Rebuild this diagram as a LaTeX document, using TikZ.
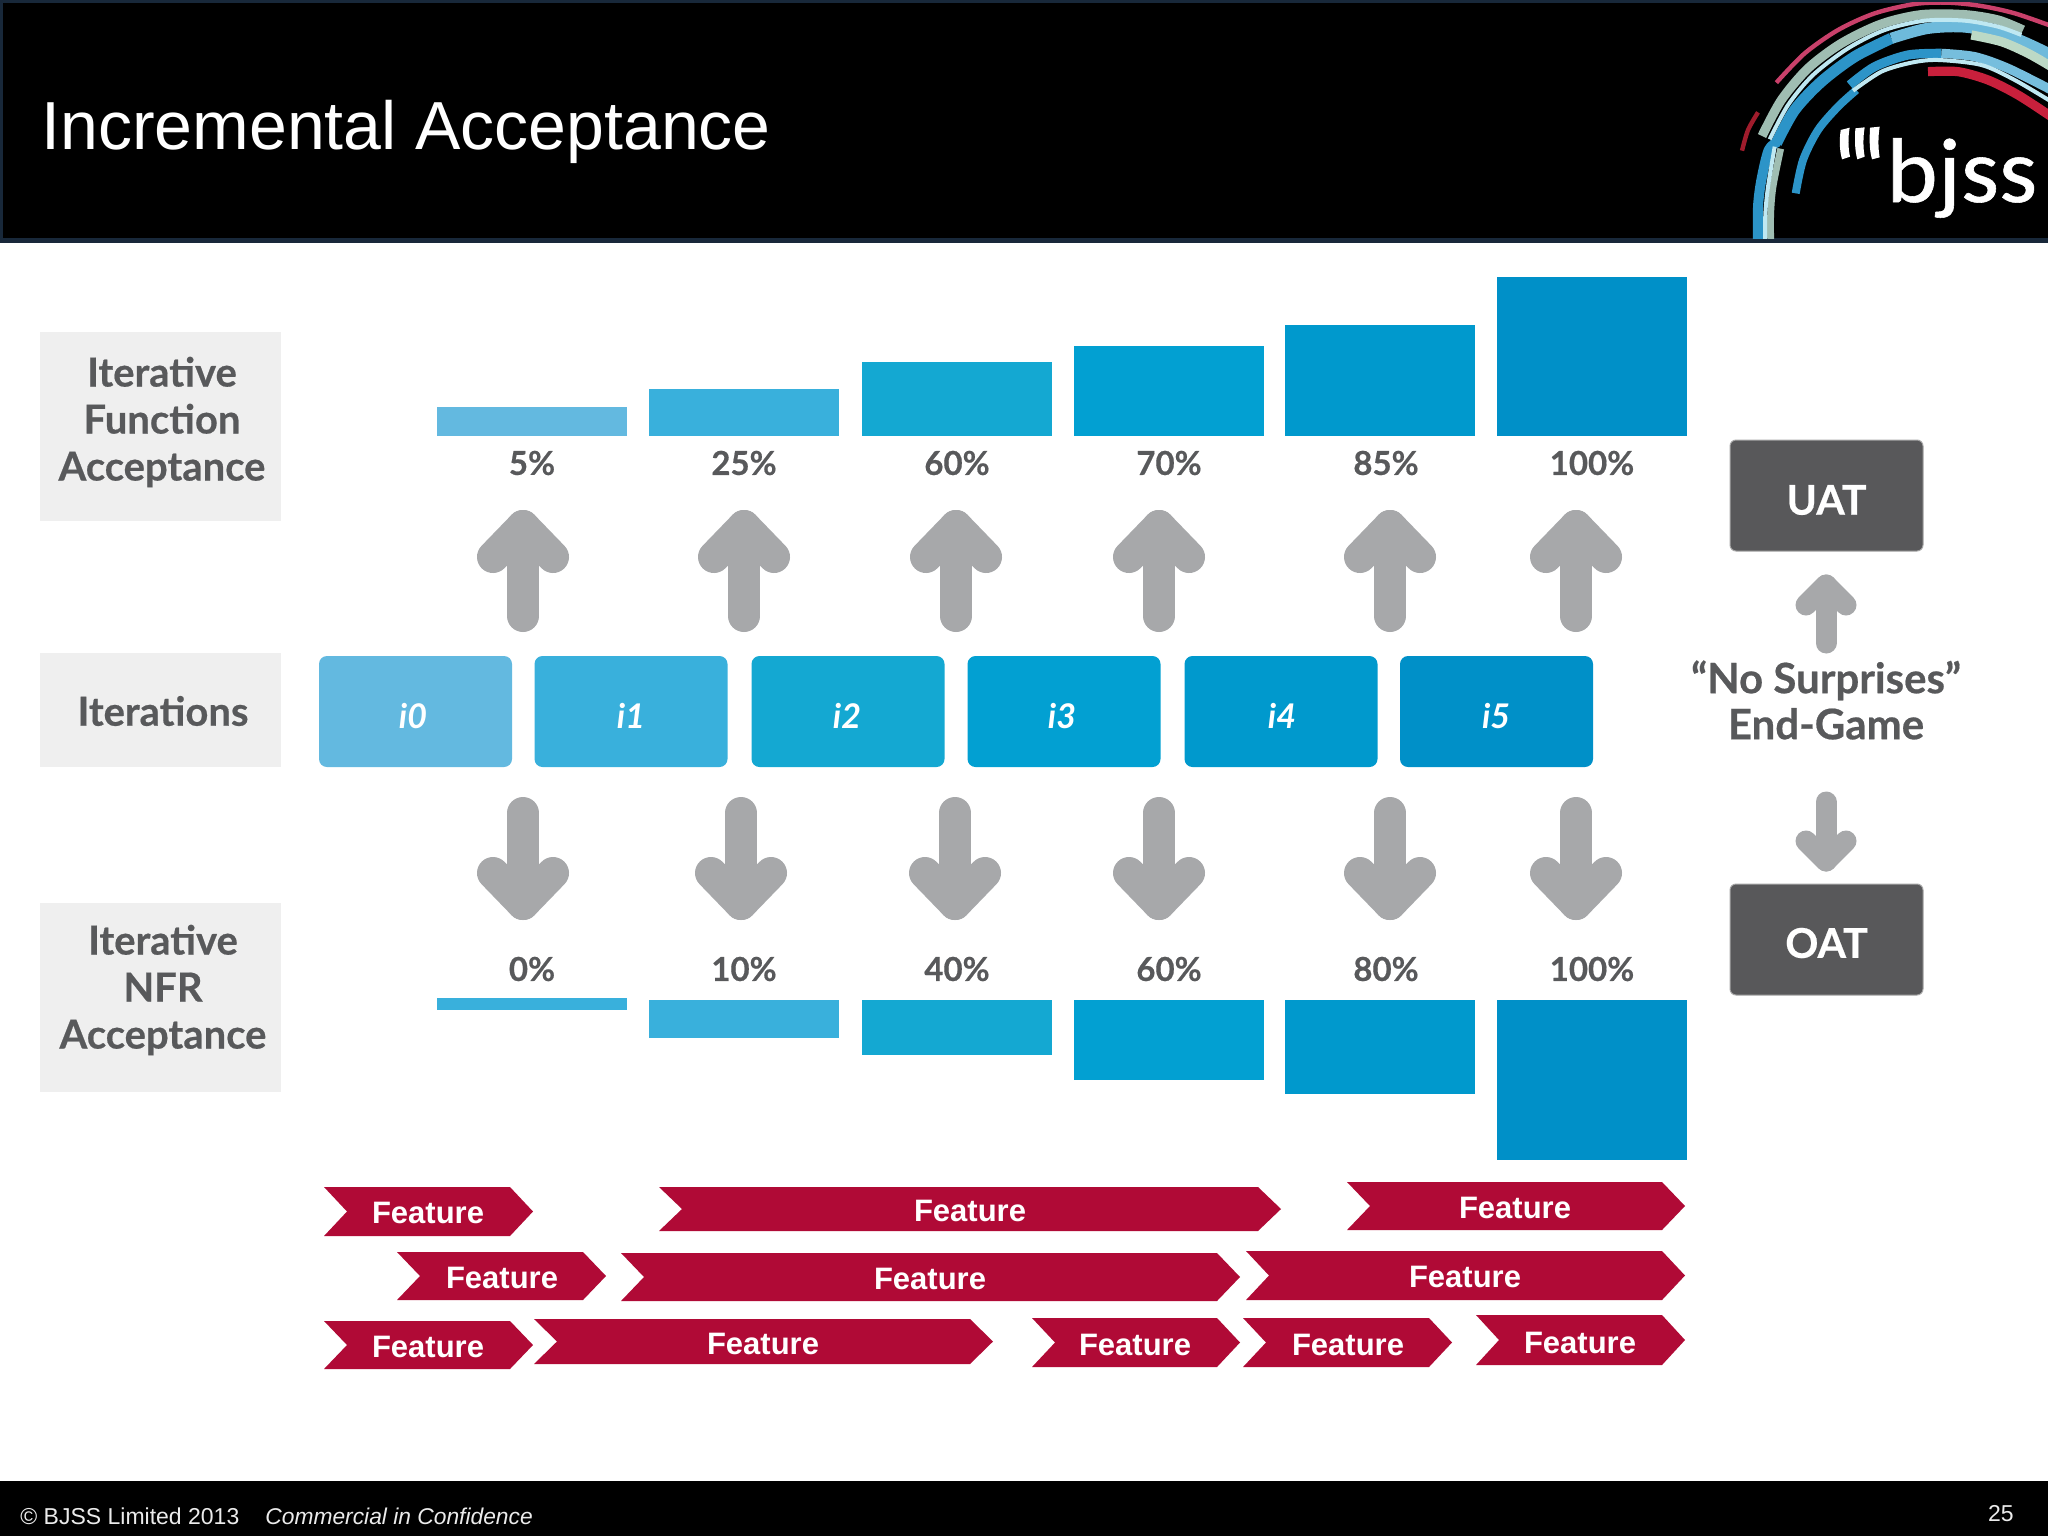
\documentclass[tikz,border=0pt]{standalone}
\usepackage{fontspec}
\setmainfont{Liberation Sans}
\newfontfamily\lato[BoldFeatures={FakeBold=0.5}]{Lato}
\newfontfamily\logofont[FakeBold=0.6]{Carlito}
\definecolor{headnavy}{HTML}{18283A}
\definecolor{labelgrey}{HTML}{EFEFEF}
\definecolor{labeltext}{HTML}{58595B}
\definecolor{arrowgrey}{HTML}{A7A8AA}
\definecolor{darkbox}{HTML}{58585A}
\definecolor{featred}{HTML}{B00A36}
\definecolor{ca}{HTML}{63B9E0}
\definecolor{cb}{HTML}{39B0DC}
\definecolor{cc}{HTML}{14A8D2}
\definecolor{cd}{HTML}{02A0D2}
\definecolor{ce}{HTML}{0099CD}
\definecolor{cf}{HTML}{0090C8}
\definecolor{lblue}{HTML}{2C94C8}
\definecolor{lgrey}{HTML}{9FBDB2}
\definecolor{llight}{HTML}{BFE8F2}
\definecolor{lgreen}{HTML}{BCD9C6}
\definecolor{lpink}{HTML}{C9406A}
\definecolor{ldred}{HTML}{A01C2C}
\definecolor{lred}{HTML}{C8203C}
\tikzset{
 labelbox/.style={fill=labelgrey,inner sep=0pt,minimum width=120.5pt},
 labeltxt/.style={text=labeltext,align=center,inner sep=0pt,font=\lato\bfseries\fontsize{20}{23.5}\selectfont},
 iterbox/.style={rounded corners=4pt,inner sep=0pt,minimum width=96.5pt,minimum height=55.5pt},
 itertxt/.style={text=white,inner sep=0pt,font=\lato\bfseries\itshape\fontsize{17}{19}\selectfont},
 barbox/.style={inner sep=0pt,minimum width=95pt},
 pct/.style={text=labeltext,font=\lato\bfseries\fontsize{16.5}{18}\selectfont,inner sep=0pt},
 gatebox/.style={fill=darkbox,draw=black!35,line width=.5pt,rounded corners=3pt,inner sep=0pt,
   minimum width=96.5pt,minimum height=55.5pt},
 fatarrow/.style={draw=arrowgrey,line width=16pt,line cap=round,line join=round},
 thinarrow/.style={draw=arrowgrey,line width=10.5pt,line cap=round,line join=round},
 feat/.style={text=white,font=\bfseries\fontsize{15.5}{17}\selectfont,inner sep=0pt},
 band/.style={line cap=butt,line join=round}
}
\newcommand{\chev}[7]{%
 \fill[featred] (#2,#3) -- (#4-23,#3) -- (#4,{(#3+#5)/2}) -- (#4-23,#5) -- (#2,#5) -- (#2+23,{(#3+#5)/2}) -- cycle;
 \node[feat] (#1) at (#6,#7) {Feature};}
\begin{document}
\begin{tikzpicture}[x=0.5pt,y=-0.5pt]
\useasboundingbox (0,0) rectangle (2048,1536);
\fill[white] (0,0) rectangle (2048,1536);
% header / footer
\fill[headnavy] (0,0) rectangle (2048,243);
\fill[black] (3,3) rectangle (2048,238);
\fill[black] (0,1481) rectangle (2048,1536);
\node[anchor=base west,inner sep=0pt,text=white,font=\fontsize{34}{36}\selectfont] (title) at (41,149) {Incremental Acceptance};
\node[anchor=base west,inner sep=0pt,text=white!92!black,font=\fontsize{11.5}{13}\selectfont] (copy) at (20,1524) {© BJSS Limited 2013};
\node[anchor=base west,inner sep=0pt,text=white!92!black,font=\itshape\fontsize{11.4}{13}\selectfont] (conf) at (265,1524) {Commercial in Confidence};
\node[anchor=base east,inner sep=0pt,text=white!92!black,font=\fontsize{11.5}{13}\selectfont] (page) at (2014,1521) {25};
% logo
\begin{scope}
\clip (1600,3) rectangle (2048,238);
\begin{scope}[shift={(1648,0)},x=0.16667pt,y=-0.16667pt]
\draw[band,lpink,line width=2.2pt] plot[smooth] coordinates {(385,248)(470,160)(570,90)(680,40)(800,12)(900,8)(1000,18)(1100,40)(1210,78)};
\draw[band,ldred,line width=2.2pt] plot[smooth] coordinates {(330,337)(300,390)(282,452)};
\draw[band,lblue,line width=5.6pt] plot[smooth] coordinates {(385,430)(440,330)(520,245)(620,170)(730,115)};
\draw[band,lblue!55!llight,line width=5.6pt] plot[smooth] coordinates {(730,115)(840,85)(960,82)(1100,115)(1210,165)};
\draw[band,lblue,line width=5pt] plot[smooth] coordinates {(330,725)(330,620)(340,540)(362,450)(390,425)};
\draw[band,lgrey,line width=4.6pt] plot[smooth] coordinates {(342,408)(400,300)(480,205)(580,130)(700,72)(820,44)(950,44)(1050,60)(1125,90)};
\draw[band,llight,line width=2pt] plot[smooth] coordinates {(365,418)(420,315)(495,225)(600,145)(710,90)(830,62)(950,62)(1050,80)(1120,105)};
\draw[band,lgrey,line width=3.4pt] plot[smooth] coordinates {(368,725)(368,640)(375,560)(398,446)};
\draw[band,llight,line width=2pt] plot[smooth] coordinates {(351,725)(352,640)(360,560)(380,440)};
\draw[band,lgreen,line width=4.6pt] plot[smooth] coordinates {(970,105)(1060,125)(1140,160)(1210,200)};
\draw[band,lblue,line width=4pt] plot[smooth] coordinates {(443,580)(465,480)(510,390)(570,320)(625,270)};
\draw[band,lblue,line width=4.6pt] plot[smooth] coordinates {(605,255)(680,200)(780,165)(880,160)};
\draw[band,lblue!50!llight,line width=4.6pt] plot[smooth] coordinates {(880,160)(980,170)(1080,205)(1210,270)};
\draw[band,llight,line width=2pt] plot[smooth] coordinates {(615,272)(700,215)(790,188)(870,180)(1000,195)(1100,240)(1210,305)};
\draw[band,lred,line width=4.6pt] plot[smooth] coordinates {(840,215)(930,215)(1020,240)(1110,285)(1210,350)};
\fill[white] (578,390) -- (605,383) .. controls (600,410) and (600,445) .. (606,470) -- (582,478) .. controls (574,450) and (574,420) .. (578,390) -- cycle;
\fill[white] (622,385) -- (650,382) .. controls (645,410) and (645,445) .. (650,470) -- (628,478) .. controls (620,450) and (620,420) .. (622,385) -- cycle;
\fill[white] (666,383) -- (695,380) .. controls (690,410) and (690,445) .. (695,472) -- (672,478) .. controls (664,450) and (664,420) .. (666,383) -- cycle;
\end{scope}
\end{scope}
\node[anchor=base west,inner sep=0pt,text=white,font=\logofont\fontsize{46}{50}\selectfont] (bjss) at (1886,202) {\scalebox{1.06}[1]{bjss}};
% left labels
\node[labelbox,minimum height=94.5pt] (lab1) at (160.5,426.5) {};
\node[labeltxt] (lab1t) at (162,422) {Iterative\\Function\\Acceptance};
\node[labelbox,minimum height=57pt] (lab2) at (160.5,710) {};
\node[labeltxt] (lab2t) at (163,711) {Iterations};
\node[labelbox,minimum height=94.5pt] (lab3) at (160.5,997.5) {};
\node[labeltxt] (lab3t) at (163,990) {Iterative\\NFR\\Acceptance};
% top bars
\foreach \n/\x/\h/\c/\lx/\t in {1/437/29/ca/532/5\%,2/649/47/cb/744/25\%,3/862/74/cc/957/60\%,4/1074/90/cd/1169/70\%,5/1285/111/ce/1386/85\%,6/1497/159/cf/1592/100\%}{
 \node[barbox,fill=\c,minimum height=\h*0.5pt,anchor=south west] (top\n) at (\x,436) {};
 \node[pct] (toppct\n) at (\lx,463) {\t};
}
% bottom bars
\foreach \n/\x/\yy/\h/\c/\lx/\t in {1/437/998/12/cb/532/0\%,2/649/1000/38/cb/744/10\%,3/862/1000/55/cc/957/40\%,4/1074/1000/80/cd/1169/60\%,5/1285/1000/94/ce/1386/80\%,6/1497/1000/160/cf/1592/100\%}{
 \node[barbox,fill=\c,minimum height=\h*0.5pt,anchor=north west] (bot\n) at (\x,\yy) {};
 \node[pct] (botpct\n) at (\lx,969) {\t};
}
% iterations
\foreach \n/\x/\c/\t/\tx in {0/415.5/ca/i0/413,1/631/cb/i1/631,2/848/cc/i2/847,3/1064/cd/i3/1062,4/1281/ce/i4/1282,5/1496.5/cf/i5/1496}{
 \node[iterbox,fill=\c] (it\n) at (\x,711.5) {};
 \node[itertxt] (itt\n) at (\tx,716) {\t};
}
% up / down arrows
\foreach \n/\x in {1/523,2/744,3/956,4/1159,5/1390,6/1576}{
 \coordinate (ua\n) at (\x,526);
 \coordinate (ub\n) at (\x,616);
 \draw[fatarrow] (ub\n) -- (ua\n);
 \draw[fatarrow] (ua\n) ++(-30,31) -- (ua\n) -- ++(30,31);
}
\foreach \n/\x in {1/523,2/741,3/955,4/1159,5/1390,6/1576}{
 \coordinate (da\n) at (\x,904);
 \coordinate (db\n) at (\x,813);
 \draw[fatarrow] (db\n) -- (da\n);
 \draw[fatarrow] (da\n) ++(-30,-31) -- (da\n) -- ++(30,-31);
}
% gates
\node[gatebox] (uat) at (1826.5,495.5) {};
\node[text=white,inner sep=0pt,font=\lato\bfseries\fontsize{20.5}{22}\selectfont] (uatt) at (1826.5,500) {UAT};
\node[gatebox] (oat) at (1826.5,939.5) {};
\node[text=white,inner sep=0pt,font=\lato\bfseries\fontsize{20.5}{22}\selectfont] (oatt) at (1826.5,943) {OAT};
\node[labeltext,align=center,inner sep=0pt,font=\lato\bfseries\fontsize{21}{23}\selectfont] (endgame) at (1826,700) {“No Surprises”\\End-Game};
\coordinate (sua) at (1826,585);
\coordinate (sub) at (1826,643);
\draw[thinarrow] (sub) -- (sua);
\draw[thinarrow] (sua) ++(-20,20) -- (sua) -- ++(20,20);
\coordinate (sda) at (1826,861);
\coordinate (sdb) at (1826,802);
\draw[thinarrow] (sdb) -- (sda);
\draw[thinarrow] (sda) ++(-20,-20) -- (sda) -- ++(20,-20);
% features
\chev{f1}{324}{1187}{533}{1236}{428}{1213}
\chev{f2}{659}{1187}{1281}{1231}{970}{1211}
\chev{f3}{1347}{1182}{1685}{1230}{1515}{1208}
\chev{f4}{397}{1252}{606}{1300}{502}{1278}
\chev{f5}{621}{1253}{1240}{1301}{930}{1279}
\chev{f6}{1246}{1251}{1685}{1300}{1465}{1277}
\chev{f7}{324}{1321}{533}{1369}{428}{1347}
\chev{f8}{534}{1319}{993}{1364}{763}{1344}
\chev{f9}{1032}{1318}{1240}{1367}{1135}{1345}
\chev{f10}{1243}{1318}{1452}{1367}{1348}{1345}
\chev{f11}{1476}{1315}{1685}{1365}{1580}{1343}
\end{tikzpicture}
\end{document}
